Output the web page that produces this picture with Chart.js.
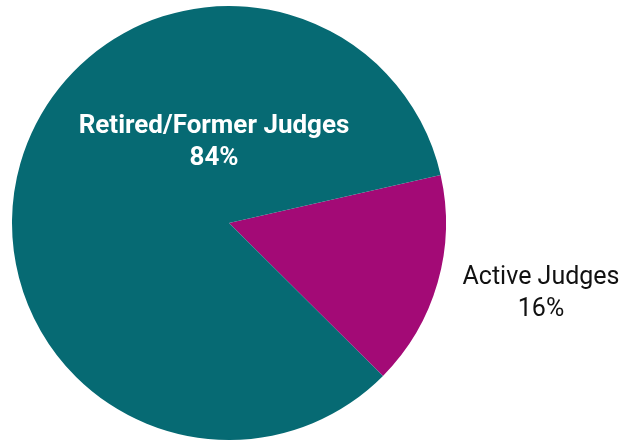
<!DOCTYPE html>
<html>
<head>
<meta charset="utf-8">
<script src="https://cdn.jsdelivr.net/npm/chart.js@4"></script>
<style>
  html, body { margin: 0; padding: 0; background: #fff; overflow: hidden; }
  #wrap { width: 619px; height: 440px; position: relative; }
</style>
</head>
<body>
<div id="wrap"><canvas id="judgesPie"></canvas></div>
<script>
var labels = ['Active Judges', 'Retired/Former Judges'];
var shares = [16, 84];
var colors = ['#a30a76', '#066a73'];

// text labels, offsets are from the pie centre
var sliceLabels = {
	0: { dx: 312, dy: 70, color: '#111', weight: '400', size: 25 },
	1: { dx: -15, dy: -82, color: '#fff', weight: 'bold', size: 26 }
};

var labelPlugin = {
	id: 'sliceLabels',
	afterDatasetsDraw: function(chart) {
		var ctx = chart.ctx;
		var arc = chart.getDatasetMeta(0).data[0];
		var cx = arc.x, cy = arc.y;
		ctx.save();
		ctx.textAlign = 'center';
		ctx.textBaseline = 'middle';
		for (var i = 0; i < labels.length; i++) {
			var s = sliceLabels[i];
			ctx.fillStyle = s.color;
			ctx.font = s.weight + ' ' + s.size + 'px Roboto, "Noto Sans", sans-serif';
			ctx.fillText(labels[i], cx + s.dx, cy + s.dy - 15);
			ctx.fillText(shares[i] + '%', cx + s.dx, cy + s.dy + 17);
		}
		ctx.restore();
	}
};

var ctx = document.getElementById('judgesPie');
var pie = new Chart(ctx, {
	type: 'pie',
	data: {
		labels: labels,
		datasets: [{
			data: shares,
			backgroundColor: colors,
			borderWidth: 0
		}]
	},
	options: {
		responsive: true,
		maintainAspectRatio: false,
		animation: false,
		rotation: 77.2,
		layout: { padding: { left: 11, right: 172, top: 6, bottom: 0 } },
		plugins: {
			legend: { display: false },
			tooltip: { enabled: false }
		}
	},
	plugins: [labelPlugin]
});
</script>
</body>
</html>
